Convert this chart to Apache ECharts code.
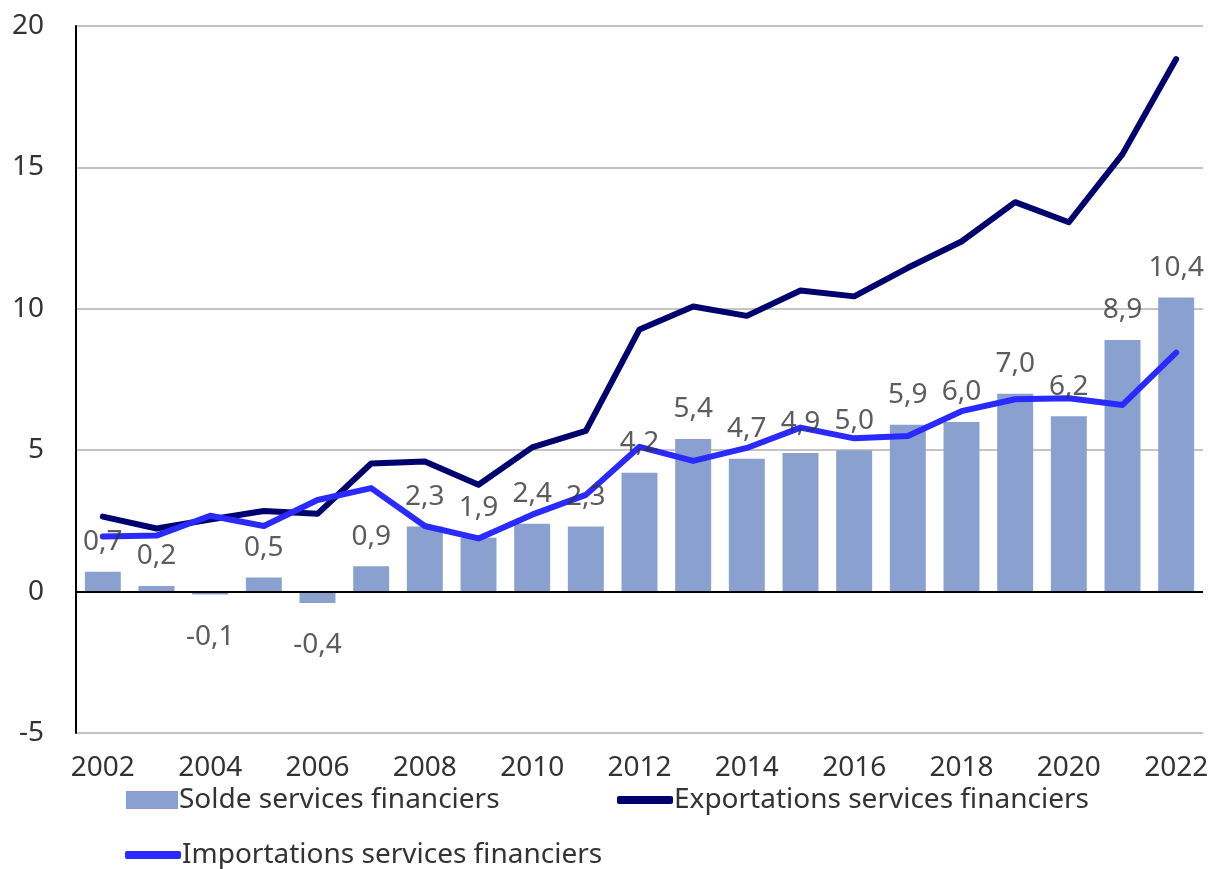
<!DOCTYPE html>
<html>
<head>
<meta charset="utf-8">
<script src="https://cdn.jsdelivr.net/npm/echarts@6/dist/echarts.min.js"></script>
<style>
  html, body { margin: 0; padding: 0; background: #fff; }
  #chart { width: 1213px; height: 869px; }
</style>
</head>
<body>
<div id="chart"></div>
<script>
var years = ['2002', '2003', '2004', '2005', '2006', '2007', '2008', '2009', '2010', '2011',
  '2012', '2013', '2014', '2015', '2016', '2017', '2018', '2019', '2020', '2021', '2022']
var solde = [0.7, 0.2, -0.1, 0.5, -0.4, 0.9, 2.3, 1.9, 2.4, 2.3,
  4.2, 5.4, 4.7, 4.9, 5.0, 5.9, 6.0, 7.0, 6.2, 8.9, 10.4]
var exportations = [2.65, 2.23, 2.55, 2.85, 2.75, 4.53, 4.6, 3.78, 5.1, 5.68,
  9.27, 10.08, 9.75, 10.65, 10.44, 11.45, 12.38, 13.77, 13.06, 15.47, 18.83]
var importations = [1.95, 1.98, 2.68, 2.32, 3.24, 3.66, 2.32, 1.88, 2.72, 3.42,
  5.12, 4.62, 5.08, 5.8, 5.42, 5.5, 6.38, 6.8, 6.84, 6.6, 8.45]

var font = 'Noto Sans'
var txt = '#333333'

function fmt (v) {
  return v.toFixed(1).replace('.', ',')
}

var labelPoints = solde.map(function (v) {
  return {
    value: v,
    label: {
      position: v < 0 ? 'bottom' : 'top',
      distance: v < 0 ? 28 : 15
    }
  }
})

var legendText = { fontFamily: font, fontSize: 28, color: txt, padding: [0, 0, 0, -4] }

var chart = echarts.init(document.getElementById('chart'))
chart.setOption({
  animation: false,
  grid: { left: 76, right: 10, top: 26, bottom: 136 },
  xAxis: {
    type: 'category',
    data: years,
    axisLine: { show: false },
    axisTick: { show: false },
    axisLabel: {
      interval: 1,
      margin: 21,
      fontFamily: font,
      fontSize: 28,
      color: txt
    }
  },
  yAxis: {
    type: 'value',
    min: -5,
    max: 20,
    interval: 5,
    axisLine: { show: true, onZero: false, lineStyle: { color: '#000', width: 2 } },
    axisTick: { show: false },
    splitLine: { lineStyle: { color: '#c4c4c4', width: 2 } },
    axisLabel: {
      margin: 32,
      fontFamily: font,
      fontSize: 28,
      color: txt
    }
  },
  legend: [
    {
      left: 121, top: 781,
      itemWidth: 52, itemHeight: 18, itemGap: 6,
      textStyle: legendText,
      data: [{ name: 'Solde services financiers', icon: 'rect' }]
    },
    {
      left: 612, top: 781,
      itemWidth: 56, itemHeight: 8,
      textStyle: legendText,
      data: [{ name: 'Exportations services financiers', icon: 'roundRect' }]
    },
    {
      left: 120, top: 836,
      itemWidth: 56, itemHeight: 8,
      textStyle: legendText,
      data: [{ name: 'Importations services financiers', icon: 'roundRect' }]
    }
  ],
  series: [
    {
      name: 'Solde services financiers',
      type: 'bar',
      data: solde,
      barWidth: '67%',
      itemStyle: { color: '#8aa1cf' },
      markLine: {
        silent: true,
        symbol: 'none',
        label: { show: false },
        lineStyle: { color: '#000', width: 2, type: 'solid' },
        data: [{ yAxis: 0 }]
      }
    },
    {
      name: 'Exportations services financiers',
      type: 'line',
      data: exportations,
      showSymbol: false,
      itemStyle: { color: '#00006e' },
      lineStyle: { color: '#00006e', width: 6, cap: 'round', join: 'round' }
    },
    {
      name: 'Importations services financiers',
      type: 'line',
      data: importations,
      showSymbol: false,
      itemStyle: { color: '#2a2aff' },
      lineStyle: { color: '#2a2aff', width: 6, cap: 'round', join: 'round' }
    },
    {
      name: 'labels',
      type: 'scatter',
      data: labelPoints,
      symbolSize: 1,
      z: 10,
      silent: true,
      itemStyle: { color: 'rgba(0,0,0,0)' },
      label: {
        show: true,
        fontFamily: font,
        fontSize: 28,
        color: txt,
        formatter: function (p) { return fmt(p.value) }
      }
    }
  ]
})
</script>
</body>
</html>
